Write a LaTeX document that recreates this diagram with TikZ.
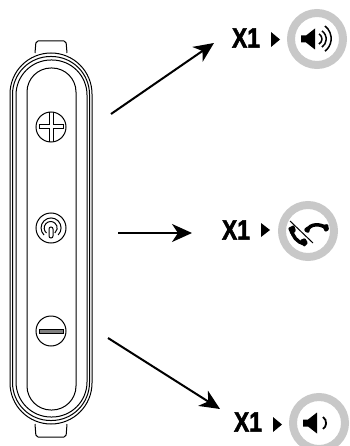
\documentclass[tikz,border=0pt]{standalone}
\usepackage{fontspec}
\setmainfont{Liberation Sans}
\newfontface\labelface[FakeBold=2]{Liberation Sans Bold}
\usepackage{tikz}
\usetikzlibrary{arrows.meta}

\newcommand{\speakerbody}{
\fill (-16,-3.5) -- (-11,-3.5) -- (-2,-10.5) -- (-2,10.5) -- (-11,3.5) -- (-16,3.5) -- cycle;
}

\begin{document}
\begin{tikzpicture}[x=1pt,y=-1pt,
casing/.style={draw=black,line width=1pt,rounded corners=#1},
keyring/.style={shape=circle,draw=black,line width=1pt,minimum size=30pt,inner sep=0pt},
ring/.style={shape=circle,draw={rgb,255:red,200;green,200;blue,200},line width=8pt,minimum size=52pt,inner sep=0pt},
label/.style={font=\labelface\fontsize{28}{28}\selectfont,inner sep=0pt},
marker/.style={shape=coordinate},
pointer/.style={-{Stealth[length=20pt,width=18pt,inset=6pt]},line width=2pt},
wave/.style={line width=1.5pt}]
\useasboundingbox (0,0) rectangle (349,446);
\def\cx{51};

% tabs
\draw[casing=2pt] (35,53) -- (36,41) -- (66,41) -- (67,53);
\draw[casing=2pt] (35,424) -- (36,437) -- (66,437) -- (67,424);

% casing
\draw[casing=41pt,fill=white] (10,53) rectangle (92,424);
\draw[casing=38pt] (12.5,56.5) rectangle (89.5,420.5);
\draw[casing=35pt] (16,60) rectangle (87,417);
\draw[casing=24pt] (27,68) rectangle (76,410);

% keys
\node[keyring] (plus) at (\cx,127) {};
\draw[line width=1pt] (\cx-2,112) -- (\cx-2,125) -- (\cx-12,125) -- (\cx-12,129) -- (\cx-2,129) -- (\cx-2,142);
\draw[line width=1pt] (\cx+2,112) -- (\cx+2,125) -- (\cx+12,125) -- (\cx+12,129) -- (\cx+2,129) -- (\cx+2,142);
\node[keyring] (power) at (\cx,228) {};
\draw[line width=1pt] (\cx-7,235) arc[start angle=135,end angle=405,radius=10];
\draw[line width=1pt] (\cx-4.5,233) arc[start angle=130,end angle=410,radius=6.5];
\draw[line width=1pt,fill=white] (\cx-2,236) -- (\cx-2,229) arc[start angle=180,end angle=360,radius=2] -- (\cx+2,236) arc[start angle=0,end angle=180,radius=2] -- cycle;
\node[keyring] (minus) at (\cx,331) {};
\draw[line width=1pt,fill=gray] (\cx-12,329) rectangle (\cx+12,333);

% pointers
\coordinate[marker] (upA) at (111,114);
\coordinate[marker] (upB) at (214,43);
\coordinate[marker] (midA) at (118,233);
\coordinate[marker] (midB) at (192,233);
\coordinate[marker] (downA) at (108,338);
\coordinate[marker] (downB) at (220,409);
\draw[pointer] (upA) -- (upB);
\draw[pointer] (midA) -- (midB);
\draw[pointer] (downA) -- (downB);

% labels
\node[label] (xup) at (246,38) {\scalebox{0.82}[1]{X1}};
\fill (271,32) -- (280,39.5) -- (271,47) -- cycle;
\node[label] (xmid) at (236,230) {\scalebox{0.82}[1]{X1}};
\fill (261,223) -- (270,230) -- (261,237) -- cycle;
\node[label] (xdown) at (248,422) {\scalebox{0.82}[1]{X1}};
\fill (273,417) -- (282,424.5) -- (273,432) -- cycle;

% volume up
\node[ring] (volup) at (317,39) {};
\begin{scope}[shift={(317,39)}]
\speakerbody
\draw[wave] (2,-5) arc[start angle=-60,end angle=60,radius=5.8];
\draw[wave] (5,-8) arc[start angle=-55,end angle=55,radius=9.8];
\draw[wave] (8,-13) arc[start angle=-52,end angle=52,radius=16];
\end{scope}

% hang up
\node[ring] (call) at (308,231) {};
\begin{scope}[shift={(308,231)}]
\draw[line width=3.5pt] (-1,-1) .. controls (2,-7) and (12,-8) .. (18,-3);
\fill[rounded corners=1pt] (-4,-2) -- (0,-5) -- (2,-2) -- (1,2) -- (-3,1) -- cycle;
\fill[rounded corners=1pt] (14,-6) -- (20,-7) -- (21,-1) -- (17,1) -- cycle;
\draw[line width=3.5pt] (-16,-1) .. controls (-16,5) and (-11,11) .. (-4,13);
\fill[rounded corners=1pt] (-20,-3) -- (-14,-6) -- (-12,0) -- (-17,4) -- cycle;
\fill[rounded corners=1pt] (-8,9) -- (-3,7) -- (0,12) -- (-4,16) -- cycle;
\draw[line width=1.5pt,draw=white] (-16,-11) -- (7,12);
\draw[line width=1pt] (-18,-10) -- (5,12);
\end{scope}

% volume down
\node[ring] (voldown) at (319,423) {};
\begin{scope}[shift={(319,423)}]
\speakerbody
\draw[wave,line width=1.8pt] (4,-6) arc[start angle=-55,end angle=55,radius=7.3];
\end{scope}
\end{tikzpicture}
\end{document}
